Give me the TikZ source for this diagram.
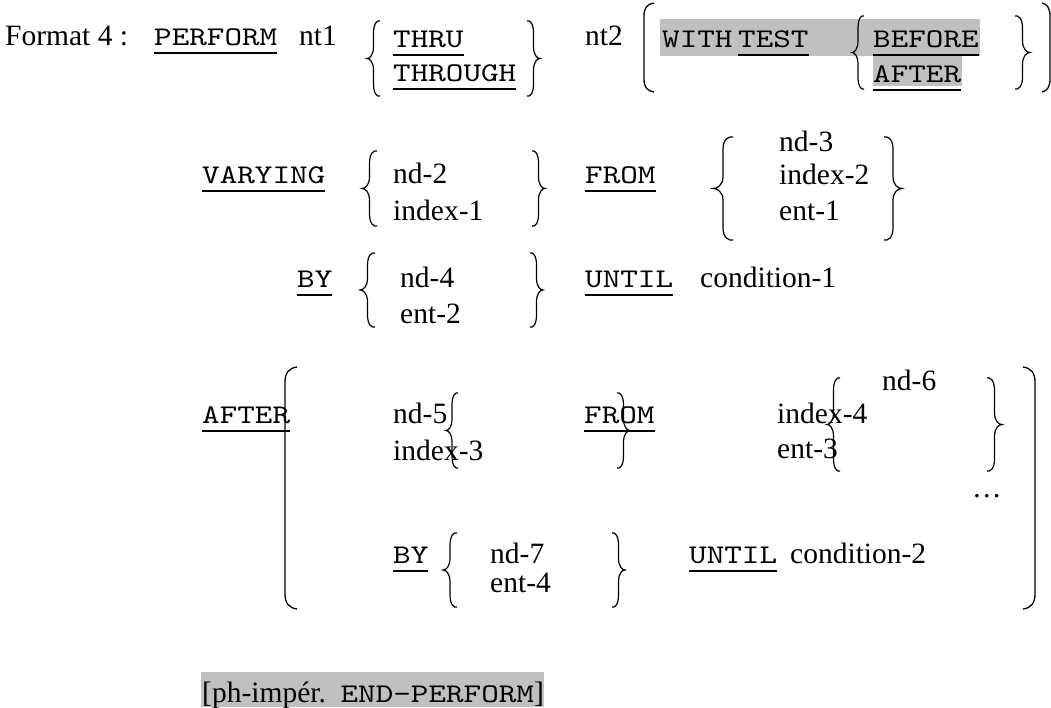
\documentclass[tikz,border=0pt]{standalone}
\usepackage{fontspec}
\newfontfamily\tmsfont{Liberation Serif}
\newfontfamily\crrfont{lmmono10-regular.otf}[FakeStretch=1.24]
\definecolor{hlgray}{RGB}{192,192,192}
\newcommand\uln[1]{\setbox0\hbox{#1}\rlap{\rule[-8.5pt]{\wd0}{1.8pt}}\box0}
\newcommand\tmstext{\tmsfont\fontsize{29.5}{35}\selectfont}
\newcommand\crrtext{\crrfont\fontsize{27}{32}\selectfont}
\tikzset{
  tm/.style={font=\tmstext, anchor=base west, inner sep=0pt},
  kw/.style={font=\crrtext, anchor=base west, inner sep=0pt},
  brcline/.style={line width=1.2pt},
  bkt/.style={line width=1.3pt},
  hl/.style={fill=hlgray, draw=none}
}
% brace: #1 end x, #2 tip x, #3 top y, #4 bottom y
\newcommand\brc[4]{%
  \pgfmathsetmacro\bxs{(#1+#2)/2}%
  \pgfmathsetmacro\bxe{\bxs+0.6*(#1-\bxs)}%
  \pgfmathsetmacro\bxt{\bxs+0.6*(#2-\bxs)}%
  \pgfmathsetmacro\bym{(#3+#4)/2}%
  \draw[brcline] (#1,#3+1) .. controls (\bxe,#3) and (\bxs,#3+3) .. (\bxs,#3+13)
    -- (\bxs,\bym-12) .. controls (\bxs,\bym-3) and (\bxt,\bym) .. (#2,\bym)
    .. controls (\bxt,\bym) and (\bxs,\bym+3) .. (\bxs,\bym+12)
    -- (\bxs,#4-13) .. controls (\bxs,#4-3) and (\bxe,#4) .. (#1,#4-1);}
\begin{document}
\begin{tikzpicture}[x=1pt,y=-1pt]
\useasboundingbox (0,0) rectangle (1051,707);
% highlights
\fill[hl] (660,19) rectangle (980,56);
\fill[hl] (873,56) rectangle (962,86);
\fill[hl] (201,672) rectangle (544,707);
% row 1
\node[tm] (fmt) at (5,45) {Format 4 :};
\node[kw] (perform) at (154,45) {\uln{PERFORM}};
\node[tm] (nt1) at (299,45) {nt1};
\node[kw] (thru) at (393,47) {\uln{THRU}};
\node[kw] (through) at (393,81) {\uln{THROUGH}};
\node[tm] (nt2) at (585,45) {nt2};
\node[kw] (with) at (662,47) {WITH};
\node[kw] (test) at (738,47) {\uln{TEST}};
\node[kw] (before) at (873,47) {\uln{BEFORE}};
\node[kw] (afterA) at (873,82) {\uln{AFTER}};
% row 2
\node[kw] (varying) at (202,183) {\uln{VARYING}};
\node[tm] (nd2) at (393,183) {nd-2};
\node[tm] (index1) at (393,220) {index-1};
\node[kw] (fromA) at (585,183) {\uln{FROM}};
\node[tm] (nd3) at (779,151) {nd-3};
\node[tm] (index2) at (779,184) {index-2};
\node[tm] (ent1) at (779,220) {ent-1};
% row 3
\node[kw] (byA) at (297,287) {\uln{BY}};
\node[tm] (nd4) at (400,287) {nd-4};
\node[tm] (ent2) at (400,323) {ent-2};
\node[kw] (untilA) at (585,287) {\uln{UNTIL}};
\node[tm] (cond1) at (700,287) {condition-1};
% row 4
\node[kw] (afterB) at (202,423) {\uln{AFTER}};
\node[tm] (nd5) at (393,423) {nd-5};
\node[tm] (index3) at (393,460) {index-3};
\node[kw] (fromB) at (584,423) {\uln{FROM}};
\node[tm] (index4) at (777,423) {index-4};
\node[tm] (nd6) at (882,390) {nd-6};
\node[tm] (ent3) at (777,458) {ent-3};
\node[tm] (dots) at (972,497) {…};
% row 5
\node[kw] (byB) at (393,563) {\uln{BY}};
\node[tm] (nd7) at (490,563) {nd-7};
\node[tm] (ent4) at (490,592) {ent-4};
\node[kw] (untilB) at (689,563) {\uln{UNTIL}};
\node[tm] (cond2) at (790,563) {condition-2};
% row 6
\node[tm] (endp) at (202,702) {[ph-impér.\ \ {\crrtext\uln{END-PERFORM}}]};
% braces
\brc{380}{367}{20}{97}
\brc{527}{540}{20}{97}
\brc{864}{852}{15}{90}
\brc{1015}{1030}{15}{90}
\brc{377}{362}{150}{227}
\brc{532}{545}{150}{227}
\brc{733}{713}{136}{241}
\brc{884}{902}{136}{241}
\brc{375}{360}{252}{328}
\brc{530}{543}{252}{328}
\brc{458}{446}{392}{469}
\brc{617}{630}{392}{469}
\brc{840}{827}{377}{472}
\brc{987}{1002}{377}{472}
\brc{457}{443}{532}{608}
\brc{612}{625}{532}{608}
% big brackets
\draw[bkt] (654,3) .. controls (647,4) and (644,8) .. (644,16) -- (644,79) .. controls (644,87) and (647,91) .. (654,92);
\draw[bkt] (1042,3) .. controls (1047,4) and (1050,8) .. (1050,16) -- (1050,79) .. controls (1050,87) and (1047,91) .. (1042,92);
\draw[bkt] (297,367) .. controls (289,368) and (285,373) .. (285,382) -- (285,594) .. controls (285,603) and (289,608) .. (297,609);
\draw[bkt] (1023,367) .. controls (1031,368) and (1035,373) .. (1035,382) -- (1035,594) .. controls (1035,603) and (1031,608) .. (1023,609);
\end{tikzpicture}
\end{document}
